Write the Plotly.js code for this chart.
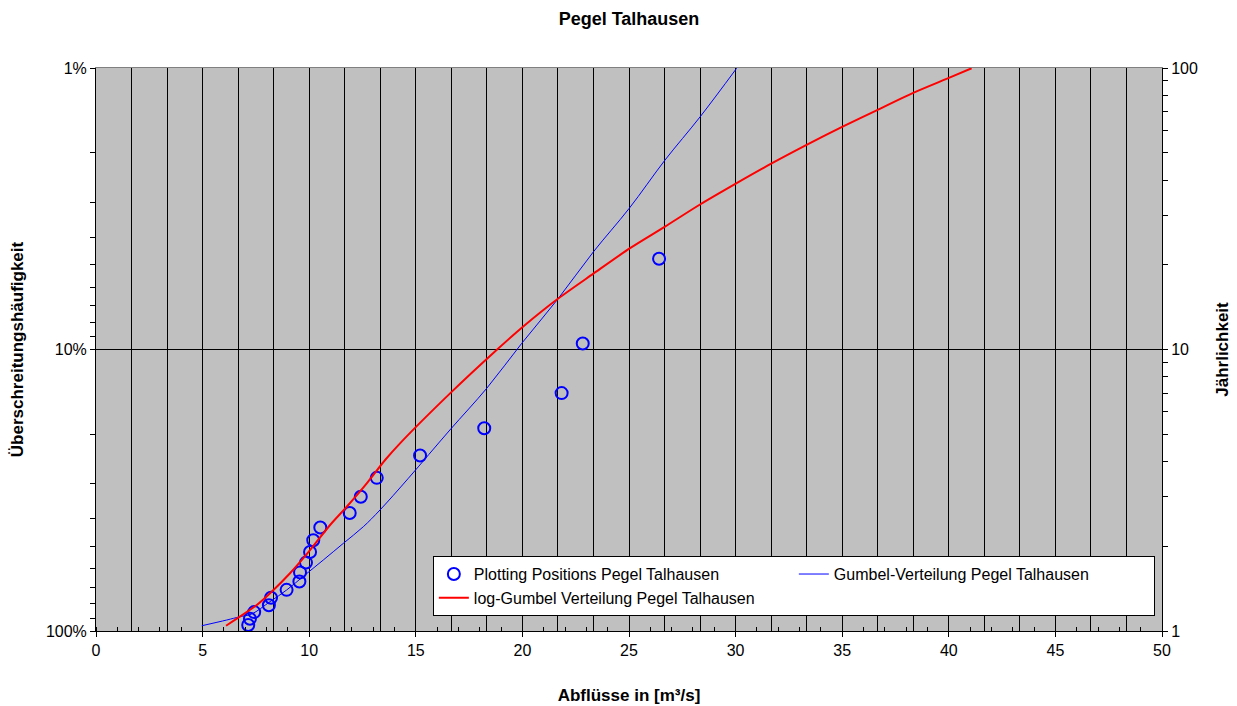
<!DOCTYPE html>
<html>
<head>
<meta charset="utf-8">
<script src="https://cdn.plot.ly/plotly-3.0.1.min.js"></script>
<style>html,body{margin:0;padding:0;background:#fff;}#chart{width:1237px;height:706px;}</style>
</head>
<body>
<div id="chart"></div>
<script>
// Plotting positions (Abfluss in m³/s, Jährlichkeit T)
const pointsQ = [7.14, 7.22, 7.42, 8.11, 8.21, 8.94, 9.54, 9.57, 9.85, 10.04, 10.19, 10.52, 11.90, 12.42, 13.17, 15.20, 18.21, 21.84, 22.83, 26.41];
const pointsT = [1.05, 1.105, 1.167, 1.235, 1.3125, 1.4, 1.5, 1.615, 1.75, 1.909, 2.1, 2.333, 2.625, 3.0, 3.5, 4.2, 5.25, 7.0, 10.5, 21.0];

// Gumbel-Verteilung
const gumbelQ = [4.96, 6.13, 6.75, 7.30, 8.16, 8.94, 9.80, 10.66, 11.60, 12.54, 13.32, 14.65, 16.60, 18.33, 19.97, 21.68, 23.33, 25.01, 26.69, 28.33, 30.05];
const gumbelT = [1.044, 1.094, 1.124, 1.149, 1.271, 1.398, 1.581, 1.787, 2.048, 2.347, 2.690, 3.487, 5.178, 7.287, 10.52, 15.17, 22.23, 31.72, 47.1, 67.0, 99.8];

// log-Gumbel Verteilung
const logGumbelQ = [6.10, 7.54, 8.24, 9.10, 10.04, 10.98, 11.76, 12.70, 13.56, 14.26, 16.68, 18.79, 20.04, 21.68, 23.33, 25.05, 26.69, 28.33, 30.05, 31.69, 33.33, 35.02, 36.69, 38.33, 40.06, 41.07];
const logGumbelT = [1.044, 1.237, 1.379, 1.604, 1.939, 2.380, 2.763, 3.345, 4.050, 4.642, 7.07, 9.96, 12.07, 15.17, 18.60, 22.91, 27.33, 32.74, 39.0, 45.8, 53.3, 61.9, 71.2, 81.6, 92.6, 99.8];

// Axis ticks
const xTickVals = [0, 5, 10, 15, 20, 25, 30, 35, 40, 45, 50];
const leftTickT = [1, 10, 100];
const leftTickLabels = ['100%', '10%', '1%'];
const leftMinorPct = [2, 3, 4, 5, 6, 7, 8, 9, 20, 30, 40, 50, 60, 70, 80, 90];
const rightTickT = [1, 10, 100];
const rightTickLabels = ['1', '10', '100'];
const rightMinorT = [2, 3, 4, 5, 6, 7, 8, 9, 20, 30, 40, 50, 60, 70, 80, 90];

const FONT = 'Liberation Sans, Arial, Helvetica, sans-serif';

const traces = [
  {
    x: pointsQ, y: pointsT, type: 'scatter', mode: 'markers',
    name: 'Plotting Positions Pegel Talhausen',
    marker: {symbol: 'circle-open', size: 12, color: '#0000FF', line: {width: 2, color: '#0000FF'}}
  },
  {
    x: gumbelQ, y: gumbelT, type: 'scatter', mode: 'lines',
    name: 'Gumbel-Verteilung Pegel Talhausen',
    line: {color: '#0000FF', width: 1, shape: 'spline', smoothing: 1}
  },
  {
    x: logGumbelQ, y: logGumbelT, type: 'scatter', mode: 'lines',
    name: 'log-Gumbel Verteilung Pegel Talhausen',
    line: {color: '#FF0000', width: 2, shape: 'spline', smoothing: 0.8}
  },
  {
    x: [], y: [], xaxis: 'x2', yaxis: 'y2', type: 'scatter', mode: 'markers',
    showlegend: false, hoverinfo: 'skip'
  }
];

const layout = {
  width: 1237, height: 706,
  margin: {l: 96, r: 75, t: 68, b: 75, pad: 0},
  paper_bgcolor: '#FFFFFF',
  plot_bgcolor: '#C0C0C0',
  font: {family: FONT, size: 16, color: '#000000'},
  title: {
    text: '<b>Pegel Talhausen</b>',
    font: {family: FONT, size: 18, color: '#000000'},
    x: 0.5, xref: 'paper', xanchor: 'center',
    y: 0.974, yref: 'container', yanchor: 'middle'
  },
  showlegend: true,
  legend: {
    orientation: 'h',
    x: 0.316, xanchor: 'left',
    y: 0.133, yanchor: 'top',
    bgcolor: '#FFFFFF', bordercolor: '#000000', borderwidth: 1,
    font: {family: FONT, size: 16, color: '#000000'},
    entrywidth: 315, entrywidthmode: 'pixels',
    traceorder: 'normal'
  },
  xaxis: {
    range: [0, 50], autorange: false,
    tickmode: 'array', tickvals: xTickVals,
    ticks: 'outside', ticklen: 5, tickcolor: '#000000', tickwidth: 1,
    showgrid: false, zeroline: false,
    showline: true, linecolor: '#000000', linewidth: 1,
    tickfont: {family: FONT, size: 16, color: '#000000'},
    minor: {dtick: 1, tick0: 0, ticks: 'inside', ticklen: 4, tickcolor: '#000000', showgrid: false},
    title: {text: '<b>Abflüsse in [m³/s]</b>', font: {family: FONT, size: 17, color: '#000000'}, standoff: 30}
  },
  xaxis2: {
    overlaying: 'x', anchor: 'y', side: 'top',
    range: [0, 50], autorange: false,
    tickmode: 'linear', tick0: 0, dtick: 5 / 3,
    ticks: '', showticklabels: false,
    showgrid: true, gridcolor: '#000000', gridwidth: 1,
    zeroline: false,
    showline: true, linecolor: '#808080', linewidth: 1
  },
  yaxis: {
    type: 'log', range: [0, 2], autorange: false,
    tickmode: 'array', tickvals: leftTickT, ticktext: leftTickLabels,
    ticks: 'outside', ticklen: 5, tickcolor: '#000000', tickwidth: 1,
    showgrid: true, gridcolor: '#000000', gridwidth: 1,
    zeroline: false,
    showline: true, linecolor: '#000000', linewidth: 1,
    tickfont: {family: FONT, size: 16, color: '#000000'},
    minor: {tickmode: 'array', tickvals: leftMinorPct.map(p => 100 / p), ticks: 'outside', ticklen: 5, tickcolor: '#000000', showgrid: false},
    title: {text: '<b>Überschreitungshäufigkeit</b>', font: {family: FONT, size: 17, color: '#000000'}, standoff: 17}
  },
  yaxis2: {
    overlaying: 'y', anchor: 'x', side: 'right',
    type: 'log', range: [0, 2], autorange: false,
    tickmode: 'array', tickvals: rightTickT, ticktext: rightTickLabels,
    ticks: 'outside', ticklen: 5, tickcolor: '#000000', tickwidth: 1,
    showgrid: false, zeroline: false,
    showline: true, linecolor: '#000000', linewidth: 1,
    tickfont: {family: FONT, size: 16, color: '#000000'},
    minor: {tickmode: 'array', tickvals: rightMinorT, ticks: 'outside', ticklen: 5, tickcolor: '#000000', showgrid: false},
    title: {text: '<b>Jährlichkeit</b>', font: {family: FONT, size: 17, color: '#000000'}, standoff: 19}
  }
};

Plotly.newPlot('chart', traces, layout, {displayModeBar: false, staticPlot: true});
</script>
</body>
</html>
